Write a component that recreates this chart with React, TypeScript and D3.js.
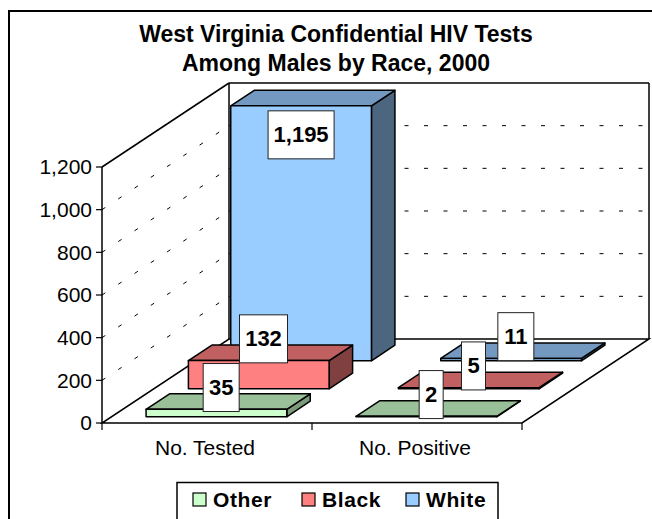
import * as d3 from "d3";
import React from "react";

const categories = ["No. Tested", "No. Positive"];
const series = ["Other", "Black", "White"];
const otherValues = [35, 2];
const blackValues = [132, 5];
const whiteValues = [1195, 11];
const yTickValues = [0, 200, 400, 600, 800, 1000, 1200];
const titleLines = ["West Virginia Confidential HIV Tests", "Among Males by Race, 2000"];

const seriesValues = [otherValues, blackValues, whiteValues];
const frontColors = ["#CCFFCC", "#FF8080", "#99CCFF"];
const topColors = ["#99C099", "#C06060", "#7399C0"];
const sideColors = ["#7A9A7A", "#804040", "#4C6680"];

const FONT = "'Liberation Sans', Arial, Helvetica, sans-serif";

// oblique depth vector of the plot box
const DX = 127;
const DY = -84;

const x = d3.scaleBand<string>().domain(categories).range([102, 522]).paddingInner(0.33).paddingOuter(0.165);
const y = d3.scaleLinear().domain([0, 1200]).range([423, 167]);
const z = d3.scaleBand<string>().domain(series).range([0, 1]).paddingInner(0.445).paddingOuter(0.2225);
const fmt = d3.format(",");

const proj = (px: number, v: number, d: number): [number, number] => [px + d * DX, y(v) + d * DY];
const poly = (pts: [number, number][]) => "M" + pts.map((p) => p.join(",")).join("L") + "Z";

function labelWidth(t: string) {
  let w = 12;
  for (const ch of t) w += ch === "," ? 6 : 12;
  return w;
}

export default function App() {
  const [x0, x1] = x.range();
  const yTop = y(1200);
  const y0 = y(0);
  const dash = "4 15.5";

  const bars: JSX.Element[] = [];
  const labels: JSX.Element[] = [];

  // back row first so front rows paint over it
  [...series].reverse().forEach((s) => {
    const si = series.indexOf(s);
    const d0 = z(s)!;
    const d1 = d0 + z.bandwidth();
    categories.forEach((c, ci) => {
      const v = seriesValues[si][ci];
      const bx0 = x(c)!;
      const bx1 = bx0 + x.bandwidth();
      const front = poly([proj(bx0, 0, d0), proj(bx1, 0, d0), proj(bx1, v, d0), proj(bx0, v, d0)]);
      const top = poly([proj(bx0, v, d0), proj(bx1, v, d0), proj(bx1, v, d1), proj(bx0, v, d1)]);
      const side = poly([proj(bx1, 0, d0), proj(bx1, 0, d1), proj(bx1, v, d1), proj(bx1, v, d0)]);
      bars.push(
        <g key={s + c} stroke="#000" strokeWidth={1.5} strokeLinejoin="round">
          <path d={side} fill={sideColors[si]} />
          <path d={top} fill={topColors[si]} />
          <path d={front} fill={frontColors[si]} />
        </g>
      );

      const t = fmt(v);
      const w = labelWidth(t);
      const h = 48;
      const dm = (d0 + d1) / 2;
      const [ax, ay] = proj((bx0 + bx1) / 2, v, dm);
      let cx = ax - 7;
      let cy = ay - 14;
      if (cy - h / 2 < yTop) {
        // no room above the plot: put it inside the bar's front face
        const [fx, fy] = proj((bx0 + bx1) / 2, v, d0);
        cx = fx;
        cy = fy + 5 + h / 2;
      }
      labels.push(
        <g key={"l" + s + c}>
          <rect x={cx - w / 2} y={cy - h / 2} width={w} height={h} fill="#fff" stroke="#222" strokeWidth={1} />
          <text x={cx} y={cy + 7.5} textAnchor="middle" fontSize={22} fontWeight="bold" fontFamily={FONT}>
            {t}
          </text>
        </g>
      );
    });
  });

  const legendX = [193, 302, 406];

  return (
    <svg width={652} height={519} style={{ position: "absolute", left: 0, top: 0 }}>
      <rect width={652} height={519} fill="#fff" />
      <path d="M9,519V11H652" fill="none" stroke="#000" strokeWidth={2} />

      {titleLines.map((t, i) => (
        <text key={t} x={336} y={41.5 + i * 29.3} textAnchor="middle" fontSize={23} fontWeight="bold" fontFamily={FONT}>
          {t}
        </text>
      ))}

      {/* walls and floor */}
      <g fill="none" stroke="#000" strokeWidth={1.5}>
        <line x1={x0} y1={y0} x2={x0} y2={yTop} />
        <line x1={x0} y1={yTop} x2={x0 + DX} y2={yTop + DY} />
        <line x1={x0 + DX} y1={yTop + DY} x2={x1 + DX} y2={yTop + DY} />
        <line x1={x0 + DX} y1={yTop + DY} x2={x0 + DX} y2={y0 + DY} />
        <line x1={x1 + DX} y1={yTop + DY} x2={x1 + DX} y2={y0 + DY} />
        <path d={poly([[x0, y0], [x1, y0], [x1 + DX, y0 + DY], [x0 + DX, y0 + DY]])} />
      </g>

      {/* gridlines on the side and back walls */}
      <g stroke="#000" strokeWidth={1} strokeDasharray={dash}>
        {yTickValues.filter((v) => v > 0 && v < 1200).map((v) => (
          <g key={v}>
            <line x1={x0} y1={y(v)} x2={x0 + DX} y2={y(v) + DY} />
            <line x1={x0 + DX} y1={y(v) + DY} x2={x1 + DX} y2={y(v) + DY} />
          </g>
        ))}
      </g>

      {/* y axis ticks and labels */}
      <g fontFamily={FONT} fontSize={21}>
        {yTickValues.map((v) => (
          <g key={v}>
            <line x1={x0 - 6} x2={x0} y1={y(v)} y2={y(v)} stroke="#000" strokeWidth={1.2} />
            <text x={x0 - 10} y={y(v) + 7.3} textAnchor="end">
              {fmt(v)}
            </text>
          </g>
        ))}
      </g>

      {/* category ticks and labels */}
      <g fontFamily={FONT} fontSize={21}>
        {[x0, ...categories.map((c) => x(c)! + x.bandwidth() + (x.step() - x.bandwidth()) / 2)].map((px, i) => (
          <line key={i} x1={px} x2={px} y1={y0} y2={y0 + 7} stroke="#000" strokeWidth={1.2} />
        ))}
        {categories.map((c) => (
          <text key={c} x={x(c)! + x.bandwidth() / 2 - 2} y={455} textAnchor="middle">
            {c}
          </text>
        ))}
      </g>

      {bars}
      {labels}

      {/* legend */}
      <rect x={177} y={482.5} width={321} height={60} fill="#fff" stroke="#000" strokeWidth={1.5} />
      {series.map((s, i) => (
        <g key={s}>
          <rect x={legendX[i]} y={493} width={13} height={13} fill={frontColors[i]} stroke="#000" strokeWidth={1.2} />
          <text x={legendX[i] + 20} y={506.5} fontSize={21} fontWeight="bold" letterSpacing={0.6} fontFamily={FONT}>
            {s}
          </text>
        </g>
      ))}
    </svg>
  );
}
